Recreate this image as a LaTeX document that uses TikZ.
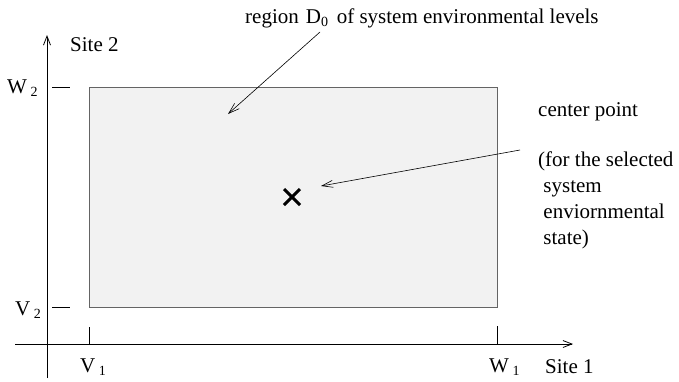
\documentclass[tikz,border=0pt]{standalone}
\usepackage{fontspec}
\setmainfont{Liberation Serif}
\usetikzlibrary{arrows.meta}
\newcommand{\sbs}[1]{\raisebox{-0.3ex}{\fontsize{14}{14}\selectfont #1}}
\begin{document}
\begin{tikzpicture}[x=1pt,y=-1pt,
  lbl/.style={inner sep=0pt,font=\fontsize{21}{25}\selectfont},
  axis/.style={line width=0.8pt,-{Straight Barb[length=9pt,width=7pt]}},
  tick/.style={line width=0.8pt},
  pointer/.style={line width=0.6pt,-{Straight Barb[length=11pt,width=7pt]}},
  cross/.style={line width=3pt}]
\useasboundingbox (0,0) rectangle (679,381);
% region of levels
\draw[fill={rgb,255:red,242;green,242;blue,242},draw={rgb,255:red,100;green,100;blue,100},line width=0.9pt]
  (89,87) rectangle (497,307);
% axes
\coordinate (yb) at (47,378);
\coordinate (yt) at (47,35);
\coordinate (xl) at (15,344);
\coordinate (xr) at (573,344);
\draw[axis] (yb) -- (yt);
\draw[axis] (xl) -- (xr);
% ticks
\coordinate (w2a) at (52,87);  \coordinate (w2b) at (70,87);
\coordinate (v2a) at (52,307); \coordinate (v2b) at (70,307);
\coordinate (v1a) at (89,327); \coordinate (v1b) at (89,344);
\coordinate (w1a) at (497,326);\coordinate (w1b) at (497,344);
\draw[tick] (w2a) -- (w2b);
\draw[tick] (v2a) -- (v2b);
\draw[tick] (v1a) -- (v1b);
\draw[tick] (w1a) -- (w1b);
% axis labels
\node[lbl,anchor=west] (site2) at (70,45) {Site 2};
\node[lbl,anchor=west] (site1) at (545,367) {Site 1};
\node[lbl,anchor=west] (w2) at (7,88) {W\,\sbs{2}};
\node[lbl,anchor=west] (v2) at (15,310) {V\,\sbs{2}};
\node[lbl,anchor=west] (v1) at (80,367) {V\,\sbs{1}};
\node[lbl,anchor=west] (w1) at (489,367) {W\,\sbs{1}};
% region annotation
\node[lbl,anchor=west] (region) at (245,18) {region\,\,D\sbs{0}\ \,of system environmental levels};
\coordinate (rtail) at (320,32);
\coordinate (rhead) at (228,114);
\draw[pointer] (rtail) -- (rhead);
% center point cross
\coordinate (cp) at (292,197);
\draw[cross] ([shift={(-8,-8)}]cp) -- ([shift={(8,8)}]cp);
\draw[cross] ([shift={(-8,8)}]cp) -- ([shift={(8,-8)}]cp);
\node[lbl,anchor=west] (cplabel) at (538,112) {center point};
\coordinate (ctail) at (520,150);
\coordinate (chead) at (321,186);
\draw[pointer] (ctail) -- (chead);
\node[lbl,anchor=north west,align=left,font=\fontsize{21}{26}\selectfont] (note) at (538,152)
  {(for the selected\\ \ system\\ \ enviornmental\\ \ state)};
\end{tikzpicture}
\end{document}
